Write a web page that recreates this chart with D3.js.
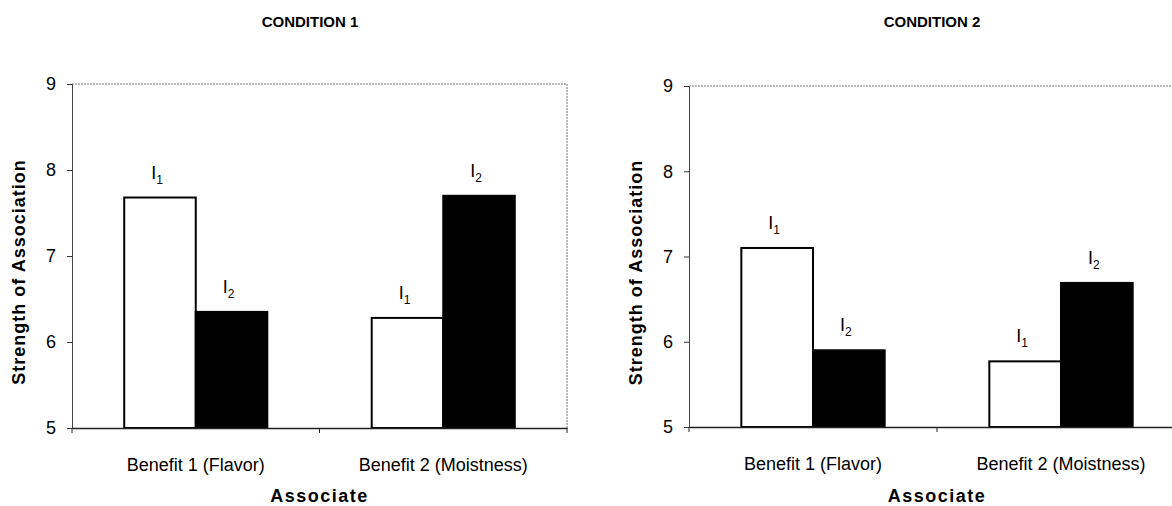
<!DOCTYPE html>
<html>
<head>
<meta charset="utf-8">
<script src="https://cdn.jsdelivr.net/npm/d3@7"></script>
<style>
  body { margin: 0; background: #fff; }
  svg { font-family: "Liberation Sans", Arial, sans-serif; }
</style>
</head>
<body>
<svg id="chart" width="1172" height="506"></svg>
<script>
// values
var categories = ["Benefit 1 (Flavor)", "Benefit 2 (Moistness)"];
var seriesKeys = ["1", "2"];          // subscript of the I label
var cond1I1 = [7.68, 6.28];
var cond1I2 = [6.35, 7.70];
var cond2I1 = [7.10, 5.77];
var cond2I2 = [5.90, 6.69];
var yTicks = [5, 6, 7, 8, 9];
var titles = ["CONDITION 1", "CONDITION 2"];
var yLabel = "Strength of Association";
var xLabel = "Associate";

var svg = d3.select("#chart");

function drawPanel(opts) {
    var g = svg.append("g");
    var left = opts.left, right = opts.right, top = opts.top, bottom = opts.bottom;

    var yScale = d3.scaleLinear().domain([5, 9]).range([bottom, top]);
    var xScale = d3.scaleBand().domain(categories).range([left, right]).padding(0);
    var inner = d3.scaleBand().domain(seriesKeys).range([0, xScale.bandwidth()])
                  .paddingInner(0).paddingOuter(0.73);

    // frame (top / right), faint
    g.append("path")
        .attr("d", "M" + left + "," + top + "H" + right + "V" + bottom)
        .attr("fill", "none").attr("stroke", "#777").attr("stroke-width", 1)
        .attr("stroke-dasharray", "2,1");

    // bars
    var rows = categories.map(function(c, i) {
        return [{cat: c, key: "1", v: opts.s1[i]}, {cat: c, key: "2", v: opts.s2[i]}];
    });
    var bars = g.selectAll(".grp").data(rows).enter().append("g")
        .attr("class", "grp")
        .attr("transform", function(d) { return "translate(" + xScale(d[0].cat) + ",0)"; });

    bars.selectAll("rect").data(function(d) { return d; }).enter().append("rect")
        .attr("x", function(d) { return inner(d.key); })
        .attr("y", function(d) { return yScale(d.v); })
        .attr("width", inner.bandwidth())
        .attr("height", function(d) { return yScale(5) - yScale(d.v); })
        .attr("fill", function(d) { return d.key === "1" ? "#fff" : "#000"; })
        .attr("stroke", "#000").attr("stroke-width", 2);

    var lab = bars.selectAll(".lab").data(function(d) { return d; }).enter().append("text")
        .attr("class", "lab")
        .attr("x", function(d) { return inner(d.key) + inner.bandwidth() / 2 - 3; })
        .attr("y", function(d) { return yScale(d.v) - 19; })
        .attr("text-anchor", "middle")
        .style("font-size", "18px");
    lab.append("tspan").text("I");
    lab.append("tspan").attr("dy", 5).style("font-size", "12px").text(function(d) { return d.key; });

    // y axis
    var yAxis = g.append("g").attr("transform", "translate(" + left + ",0)")
        .call(d3.axisLeft(yScale).tickValues(yTicks).tickSize(5).tickPadding(11).tickFormat(d3.format("d")));
    yAxis.selectAll("text").style("font-size", "18px").attr("fill", "#000");
    yAxis.selectAll("line").attr("stroke", "#333");
    yAxis.select(".domain").attr("stroke", "#444");

    // x axis: labels under bands, ticks at band edges
    var xAxis = g.append("g").attr("transform", "translate(0," + bottom + ")")
        .call(d3.axisBottom(xScale).tickSize(0).tickPadding(30));
    xAxis.selectAll("text").style("font-size", "18px").attr("fill", "#000");
    xAxis.select(".domain").attr("stroke", "#222").attr("stroke-width", 1.5);

    var edges = categories.map(function(c) { return xScale(c); }).concat([right]);
    g.selectAll(".xedge").data(edges).enter().append("line")
        .attr("class", "xedge")
        .attr("x1", function(d) { return d; }).attr("x2", function(d) { return d; })
        .attr("y1", bottom).attr("y2", bottom + 5)
        .attr("stroke", "#222");

    // titles
    g.append("text").attr("x", opts.titleX).attr("y", 27)
        .attr("text-anchor", "middle").style("font-size", "15px").style("font-weight", "bold")
        .text(opts.title);

    g.append("text").attr("x", (left + right) / 2).attr("y", 502)
        .attr("text-anchor", "middle").style("font-size", "18px").style("font-weight", "bold")
        .style("letter-spacing", "1.5px")
        .text(xLabel);

    g.append("text")
        .attr("transform", "translate(" + (left - 47) + "," + ((top + bottom) / 2 + 16) + ") rotate(-90)")
        .attr("text-anchor", "middle").style("font-size", "18px").style("font-weight", "bold")
        .style("letter-spacing", "1px")
        .text(yLabel);
}

drawPanel({left: 72, right: 567, top: 84, bottom: 428, s1: cond1I1, s2: cond1I2, title: titles[0], titleX: 310});
drawPanel({left: 689, right: 1185, top: 86, bottom: 427, s1: cond2I1, s2: cond2I2, title: titles[1], titleX: 932});
</script>
</body>
</html>
